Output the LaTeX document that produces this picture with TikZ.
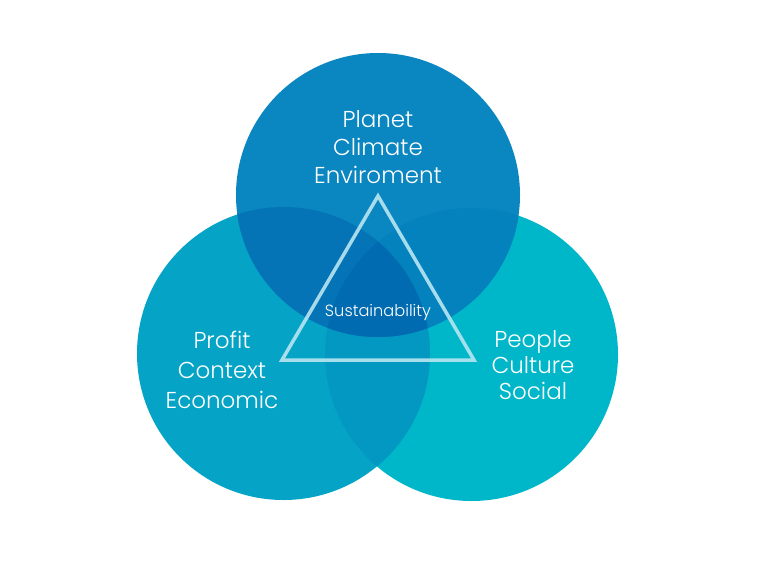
\documentclass[tikz,border=0pt]{standalone}
\usepackage{fontspec}
\setmainfont{Poppins Light}
\begin{document}
\begin{tikzpicture}[x=1pt,y=-1pt,
  lbl/.style={text=white,font=\fontsize{23}{28}\selectfont,align=center,inner sep=0},
  slbl/.style={text=white,font=\fontsize{16.2}{18}\selectfont,inner sep=0}]
\useasboundingbox (0,0) rectangle (768,576);
\def\T{(378,195) circle[radius=142]}
\def\L{(283.5,353.5) circle[radius=146.5]}
\def\R{(471.5,354.5) circle[radius=146.5]}
\definecolor{cR}{HTML}{00B7C9}
\definecolor{cL}{HTML}{05A4C7}
\definecolor{cT}{HTML}{0A86C0}
\definecolor{cLR}{HTML}{0398C2}
\definecolor{cTL}{HTML}{0474B7}
\definecolor{cTR}{HTML}{0382BE}
\definecolor{cTLR}{HTML}{006BB0}
\definecolor{tri}{HTML}{B8E6F0}
\fill[cR] \R;
\fill[cL] \L;
\fill[cT] \T;
\begin{scope}\clip \L; \fill[cLR] \R; \end{scope}
\begin{scope}\clip \T; \fill[cTL] \L; \end{scope}
\begin{scope}\clip \T; \fill[cTR] \R; \end{scope}
\begin{scope}\clip \T; \clip \L; \fill[cTLR] \R; \end{scope}
\coordinate (apex) at (378,196);
\coordinate (bl) at (282,360);
\coordinate (br) at (474,360);
\draw[tri,line width=3.5pt,opacity=0.9,line join=miter] (apex) -- (bl) -- (br) -- cycle;
\node[lbl] (planet) at (378,147) {Planet\\Climate\\Enviroment};
\node[lbl,font=\fontsize{23}{30}\selectfont] (profit) at (222,370) {Profit\\Context\\Economic};
\node[lbl,font=\fontsize{23}{26}\selectfont] (people) at (533,365) {People\\Culture\\Social};
\node[slbl] (sus) at (378,312) {Sustainability};
\end{tikzpicture}
\end{document}
